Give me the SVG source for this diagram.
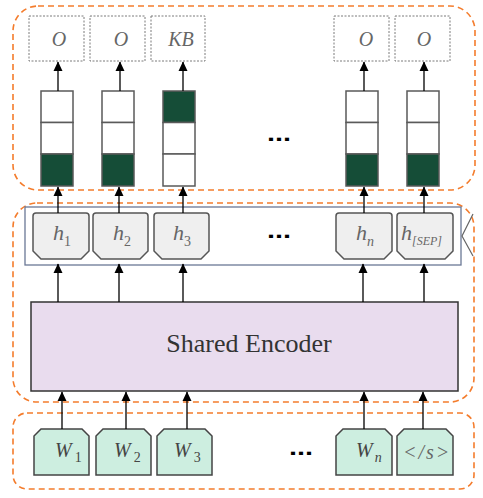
<svg xmlns="http://www.w3.org/2000/svg" width="483" height="498" viewBox="0 0 483 498">
<defs>
<marker id="ah" markerUnits="userSpaceOnUse" markerWidth="10" markerHeight="10" viewBox="0 0 10 10" refX="9" refY="5" orient="auto">
<path d="M0,0.5 L9.5,5 L0,9.5 Z" fill="#000"/>
</marker>
<style>
.grp{fill:none;stroke:#f47c2c;stroke-width:1.6;stroke-dasharray:6 4}
.out{fill:#fff;stroke:#7a7a7a;stroke-width:1;stroke-dasharray:2 1.5}
.cell{fill:#fff;stroke:#5a5a5a;stroke-width:1.5}
.on{fill:#154d37}
.hn{fill:#efefef;stroke:#555;stroke-width:1.5}
.wn{fill:#cdeee0;stroke:#444;stroke-width:1.5}
.arr{stroke:#000;stroke-width:1.3;fill:none;marker-end:url(#ah)}
.lbl{font-family:"Liberation Serif",serif;font-style:italic;fill:#666}
.wl{font-family:"Liberation Serif",serif;font-style:italic;fill:#444}
.sub{font-style:normal}
.dots{font-family:"Liberation Sans",sans-serif;font-weight:bold;font-size:24px;fill:#000}
</style>
</defs>
<rect width="483" height="498" fill="#fff"/>

<g id="groups">
<rect class="grp" x="13" y="6" width="462" height="184" rx="25"/>
<rect class="grp" x="13" y="203" width="461" height="199" rx="24"/>
<rect class="grp" x="13" y="413" width="461" height="76" rx="14"/>
</g>

<g id="outputs">
<g id="out1"><rect class="out" x="29" y="16" width="55" height="45"/><text class="lbl" x="59" y="46" font-size="20" text-anchor="middle">O</text></g>
<g id="out2"><rect class="out" x="90" y="16" width="55" height="45"/><text class="lbl" x="121" y="46" font-size="20" text-anchor="middle">O</text></g>
<g id="out3"><rect class="out" x="151" y="16" width="54" height="45"/><text class="lbl" x="181" y="46" font-size="20" text-anchor="middle">KB</text></g>
<g id="out4"><rect class="out" x="334" y="16" width="55" height="45"/><text class="lbl" x="366" y="46" font-size="20" text-anchor="middle">O</text></g>
<g id="out5"><rect class="out" x="395" y="16" width="55" height="45"/><text class="lbl" x="424" y="46" font-size="20" text-anchor="middle">O</text></g>
</g>

<g id="bars">
<g id="bar1"><rect class="cell" x="41" y="91" width="32" height="31.5"/><rect class="cell" x="41" y="122.5" width="32" height="31.5"/><rect class="cell on" x="41" y="154" width="32" height="32"/></g>
<g id="bar2"><rect class="cell" x="102" y="91" width="32" height="31.5"/><rect class="cell" x="102" y="122.5" width="32" height="31.5"/><rect class="cell on" x="102" y="154" width="32" height="32"/></g>
<g id="bar3"><rect class="cell on" x="163" y="91" width="32" height="31.5"/><rect class="cell" x="163" y="122.5" width="32" height="31.5"/><rect class="cell" x="163" y="154" width="32" height="32"/></g>
<g id="bar4"><rect class="cell" x="346" y="91" width="32" height="31.5"/><rect class="cell" x="346" y="122.5" width="32" height="31.5"/><rect class="cell on" x="346" y="154" width="32" height="32"/></g>
<g id="bar5"><rect class="cell" x="407" y="91" width="32" height="31.5"/><rect class="cell" x="407" y="122.5" width="32" height="31.5"/><rect class="cell on" x="407" y="154" width="32" height="32"/></g>
</g>

<g id="hidden">
<rect x="25" y="207" width="436" height="58" fill="#fff" stroke="#6a7896" stroke-width="1.3"/>
<polyline points="473,214 462,236 473,256" fill="none" stroke="#666" stroke-width="1.2"/>
<g id="h1"><path class="hn" d="M33,216 Q33,213 36,213 H86 Q89,213 89,216 V251 L81,259 H41 L33,251 Z"/><text class="lbl" x="53" y="240" font-size="22">h<tspan class="sub" font-size="14" dy="6">1</tspan></text></g>
<g id="h2"><path class="hn" d="M93,216 Q93,213 96,213 H145 Q148,213 148,216 V251 L140,259 H101 L93,251 Z"/><text class="lbl" x="113" y="240" font-size="22">h<tspan class="sub" font-size="14" dy="6">2</tspan></text></g>
<g id="h3"><path class="hn" d="M154,216 Q154,213 157,213 H206 Q209,213 209,216 V251 L201,259 H162 L154,251 Z"/><text class="lbl" x="173" y="240" font-size="22">h<tspan class="sub" font-size="14" dy="6">3</tspan></text></g>
<g id="hn"><path class="hn" d="M336,216 Q336,213 339,213 H389 Q392,213 392,216 V251 L384,259 H344 L336,251 Z"/><text class="lbl" x="356" y="240" font-size="22">h<tspan font-size="14" dy="6">n</tspan></text></g>
<g id="hsep"><path class="hn" d="M397,216 Q397,213 400,213 H450 Q453,213 453,216 V251 L445,259 H405 L397,251 Z"/><text class="lbl" x="401" y="240" font-size="22">h<tspan font-size="12" dy="5">[SEP]</tspan></text></g>
</g>

<g id="encoder">
<rect x="31" y="302" width="427" height="89" fill="#e9dcee" stroke="#333" stroke-width="1.5"/>
<text x="249" y="352" font-family="Liberation Serif,serif" font-size="26" fill="#333" text-anchor="middle">Shared Encoder</text>
</g>

<g id="inputs">
<g id="w1"><path class="wn" d="M34,475 V436 L41,429 H82 L89,436 V475 Z"/><text class="wl" x="55" y="457" font-size="20">W<tspan class="sub" font-size="14" dx="3" dy="5">1</tspan></text></g>
<g id="w2"><path class="wn" d="M96,475 V436 L103,429 H144 L151,436 V475 Z"/><text class="wl" x="114" y="457" font-size="20">W<tspan class="sub" font-size="14" dx="3" dy="5">2</tspan></text></g>
<g id="w3"><path class="wn" d="M157,475 V436 L164,429 H205 L212,436 V475 Z"/><text class="wl" x="174" y="457" font-size="20">W<tspan class="sub" font-size="14" dx="3" dy="5">3</tspan></text></g>
<g id="wn"><path class="wn" d="M336,475 V436 L343,429 H385 L392,436 V475 Z"/><text class="wl" x="356" y="457" font-size="20">W<tspan font-size="14" dx="2" dy="5">n</tspan></text></g>
<g id="ws"><path class="wn" d="M397,475 V436 L404,429 H446 L453,436 V475 Z"/><text class="lbl" x="403" y="459" font-size="20" letter-spacing="2">&lt;/s&gt;</text></g>
</g>

<g id="ellipses">
<text class="dots" transform="translate(267,141) scale(1.2,0.9)">...</text>
<text class="dots" transform="translate(267,238) scale(1.2,0.9)">...</text>
<text class="dots" transform="translate(289,455) scale(1.2,0.9)">...</text>
</g>

<g id="connectors">
<line class="arr" x1="58" y1="91" x2="58" y2="62"/>
<line class="arr" x1="120" y1="91" x2="120" y2="62"/>
<line class="arr" x1="183" y1="91" x2="183" y2="62"/>
<line class="arr" x1="364" y1="91" x2="364" y2="62"/>
<line class="arr" x1="424" y1="91" x2="424" y2="62"/>
<line class="arr" x1="58" y1="213" x2="58" y2="187"/>
<line class="arr" x1="119" y1="213" x2="119" y2="187"/>
<line class="arr" x1="183" y1="213" x2="183" y2="187"/>
<line class="arr" x1="364" y1="213" x2="364" y2="187"/>
<line class="arr" x1="424" y1="213" x2="424" y2="187"/>
<line class="arr" x1="58" y1="302" x2="58" y2="264"/>
<line class="arr" x1="119" y1="302" x2="119" y2="264"/>
<line class="arr" x1="183" y1="302" x2="183" y2="264"/>
<line class="arr" x1="363" y1="302" x2="363" y2="264"/>
<line class="arr" x1="424" y1="302" x2="424" y2="264"/>
<line class="arr" x1="62" y1="429" x2="62" y2="392"/>
<line class="arr" x1="126" y1="429" x2="126" y2="392"/>
<line class="arr" x1="187" y1="429" x2="187" y2="392"/>
<line class="arr" x1="364" y1="429" x2="364" y2="392"/>
<line class="arr" x1="423" y1="429" x2="423" y2="392"/>
</g>
</svg>
